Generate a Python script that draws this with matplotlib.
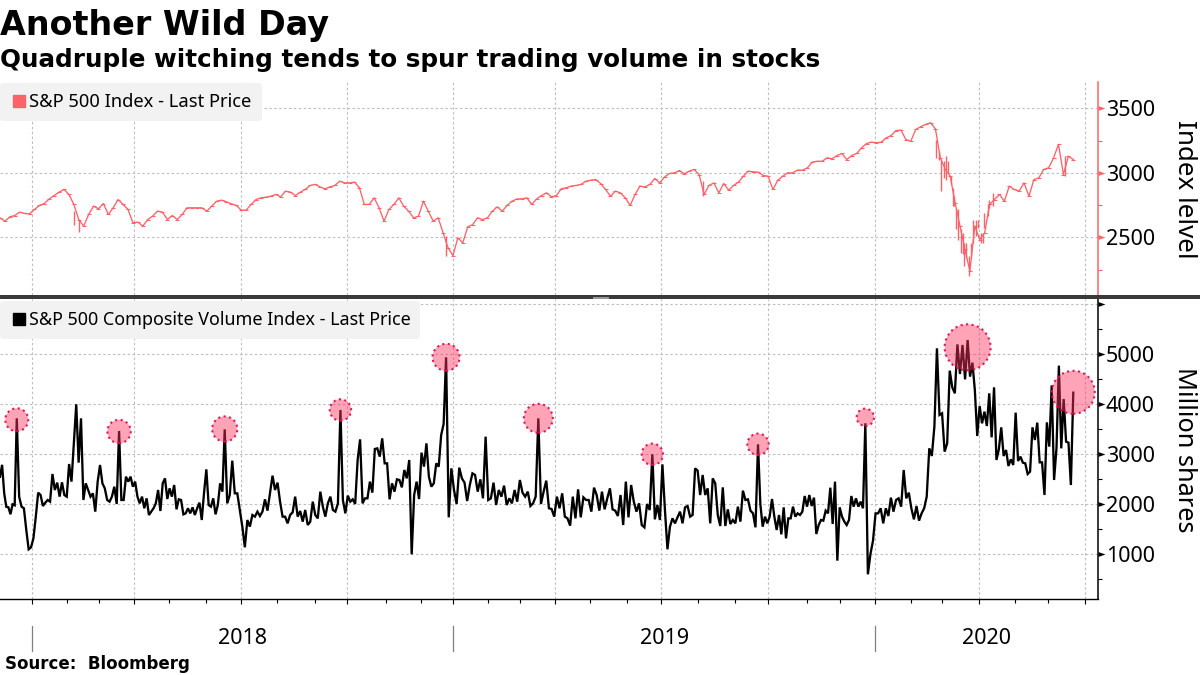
import numpy as np
import pandas as pd
import matplotlib
matplotlib.use("Agg")
import matplotlib.pyplot as plt
from matplotlib.lines import Line2D
from matplotlib.patches import Rectangle
from matplotlib.ticker import FixedLocator, NullFormatter
from matplotlib.transforms import blended_transform_factory

plt.rcParams['font.family'] = ['Noto Sans', 'DejaVu Sans']

title = "Another Wild Day"
subtitle = "Quadruple witching tends to spur trading volume in stocks"
source = "Source:  Bloomberg"

# exchange closures, so the x axis runs in trading sessions
holidays = ['2017-12-25', '2018-01-01', '2018-01-15', '2018-02-19', '2018-03-30', '2018-05-28',
            '2018-07-04', '2018-09-03', '2018-11-22', '2018-12-05', '2018-12-25', '2019-01-01',
            '2019-01-21', '2019-02-18', '2019-04-19', '2019-05-27', '2019-07-04', '2019-09-02',
            '2019-11-28', '2019-12-25', '2020-01-01', '2020-01-20', '2020-02-17', '2020-04-10',
            '2020-05-25', '2020-07-03']

price = [2651, 2625, 2659, 2669, 2695, 2685, 2682, 2716, 2747, 2762, 2798, 2824, 2850, 2871, 2832, 2755,
         2638, 2587, 2677, 2742, 2721, 2762, 2677, 2729, 2793, 2755, 2716, 2612, 2618, 2587, 2638, 2664,
         2703, 2695, 2638, 2669, 2638, 2677, 2729, 2729, 2729, 2729, 2703, 2742, 2780, 2788, 2775, 2760,
         2747, 2711, 2711, 2755, 2793, 2806, 2811, 2819, 2832, 2814, 2858, 2850, 2824, 2850, 2871, 2902,
         2910, 2891, 2876, 2891, 2902, 2935, 2922, 2922, 2928, 2884, 2755, 2755, 2806, 2729, 2625, 2716,
         2755, 2806,
         2742, 2703, 2651, 2664, 2780, 2703, 2625, 2651, 2535, 2419, 2359, 2496, 2457, 2581, 2599, 2651,
         2638, 2651, 2703, 2736, 2703, 2747, 2780, 2798, 2798, 2806, 2755, 2798, 2824, 2845, 2814, 2824,
         2876, 2884, 2897, 2902, 2910, 2935, 2943, 2948, 2917, 2871, 2819, 2858, 2845, 2806, 2747, 2832,
         2897, 2891, 2910, 2956, 2922, 2969, 2995, 3000, 3018, 2992, 3013, 3026, 2987, 2832, 2902, 2922,
         2845, 2917, 2866, 2902, 2928, 2974, 3013, 3008, 3005, 2979, 2974, 2871, 2943, 2974, 3000, 3000,
         3021,
         3021, 3039, 3083, 3090, 3090, 3116, 3109, 3134, 3150, 3103, 3134, 3150, 3194, 3227, 3238, 3233,
         3238, 3271, 3289, 3328, 3331, 3258, 3245, 3336, 3357, 3375, 3388, 3341, 3116, 3026, 2974, 2767,
         2587, 2406, 2238, 2587, 2483, 2535, 2755, 2793, 2832, 2780, 2897, 2871, 2858, 2922, 2819, 2948,
         2961, 3026, 3039, 3116, 3220, 2987, 3129, 3103]

# high-low bars of the widest sessions
range_sessions = [44, 47, 266, 419, 558, 560, 561, 563, 564, 565, 567, 568, 569, 570, 571, 573, 574, 575, 576,
                  578, 579, 580, 582, 583, 585, 586, 587, 589, 590, 592, 635]
range_high = [2703, 2638, 2509, 2935, 3258, 3168, 3103, 3090, 3129, 3090, 2974, 2884, 2819, 2716, 2716, 2561,
              2535, 2457, 2457, 2354, 2457, 2638, 2638, 2638, 2535, 2535, 2690, 2755, 2793, 2845, 3129]
range_low = [2599, 2540, 2354, 2824, 3116, 3103, 2858, 2961, 2948, 3000, 2910, 2742, 2742, 2561, 2483, 2380,
             2367, 2276, 2341, 2199, 2354, 2457, 2509, 2574, 2457, 2457, 2574, 2664, 2729, 2742, 2974]

# sessions the volume spikes sit on, one block of volume readings ends on each
spike_dates = ['2017-12-18', '2018-03-19', '2018-06-18', '2018-09-25', '2018-12-26', '2019-03-18',
               '2019-06-24', '2019-09-23', '2019-12-23', '2020-03-23', '2020-06-22']

vol_a = [2550, 2790, 2220, 1950, 1940, 1800, 2000, 1980, 3720]
vol_b = [2153, 1953, 1920, 1486, 1100, 1140, 1320, 1753, 2233, 2186, 1966, 2033, 2086, 2053, 2606, 2286,
         2433, 2153, 2440, 2186, 2153, 2806, 2453, 3219, 4000, 2833, 3719, 2086, 2419, 2286, 2153, 2219,
         1853, 2453, 2786, 2419, 2319, 2086, 2053, 2153, 2353, 2006, 3466]
vol_c = [2086, 2086, 2553, 2453, 2553, 2353, 2453, 2153, 2019, 2153, 1920, 2119, 1786, 1853, 1920, 2019,
         2286, 1866, 2419, 2519, 2106, 2319, 2153, 2386, 1899, 2099, 2086, 1799, 1819, 1920, 1819, 1939,
         1786, 1920, 2033, 1686, 2233, 2699, 1986, 1953, 2119, 1799, 1986, 2419, 2253, 3499]
vol_d = [2019, 2186, 2873, 2219, 2219, 1886, 1553, 1140, 1686, 1553, 1786, 1753, 1853, 1766, 1853, 2099,
         1873, 2219, 2573, 2286, 2433, 2053, 1753, 1753, 1619, 1786, 1839, 2153, 1753, 1866, 1653, 1886,
         1586, 1653, 2053, 1786, 1719, 2253, 1953, 1753, 2019, 2153, 1886, 1853, 2019, 3886]
vol_e = [2086, 1819, 2173, 2053, 2099, 2006, 2886, 3299, 2019, 2119, 2119, 2453, 2233, 3106, 3119, 2953,
         3319, 2819, 2819, 2099, 2419, 2253, 2499, 2486, 2339, 2686, 2519, 2886, 1000, 2186, 2453, 2106,
         3033, 2753, 3219, 2553, 2353, 2419, 2819, 2753, 3386, 3606, 4940]
vol_f = [1739, 2719, 2286, 2006, 2733, 2519, 2433, 2066, 2386, 2619, 2586, 2253, 2499, 2119, 3353, 2086,
         2119, 2433, 1986, 2286, 2153, 2373, 1986, 2119, 2019, 2286, 2053, 2486, 2233, 2153, 2253, 1966,
         2019, 2153, 3719]
vol_g = [2006, 2253, 2473, 1920, 1906, 1753, 2153, 1920, 2219, 1753, 1719, 1573, 2153, 1719, 2299, 1739,
         2139, 2086, 2086, 1853, 2333, 2186, 1873, 2253, 1899, 2119, 2319, 1899, 1873, 1766, 2186, 1586,
         2453, 1739, 2386, 2053, 1853, 2019, 1586, 1539, 2006, 1886, 3000]
vol_h = [1699, 1986, 1686, 2799, 1886, 1100, 1553, 1719, 1619, 1739, 1853, 1619, 1939, 1966, 1753, 1786,
         2719, 2673, 2186, 2586, 2186, 2319, 1619, 2519, 2419, 1786, 1566, 2339, 1566, 1899, 1606, 1686,
         1619, 1953, 1653, 2273, 2086, 2099, 1873, 1819, 1539, 3200]
vol_i = [2006, 1553, 1753, 1619, 1753, 2106, 1753, 1486, 1786, 1399, 1939, 1319, 1719, 1719, 1953, 1753,
         1819, 1786, 1853, 2166, 1953, 2186, 1966, 2133, 1406, 1586, 1686, 1673, 1873, 1819, 2333, 1606,
         2453, 873, 1939, 1753, 1653, 1586, 1686, 2166, 1953, 2119, 1953, 2053, 1920, 3620]
vol_j = [600, 1006, 1273, 1819, 1819, 1920, 1619, 1920, 1766, 2133, 1853, 2086, 2119, 1953, 2686, 2119,
         2233, 1920, 1699, 1966, 1673, 1819, 1920, 2153, 3119, 2966, 3553, 5119, 3786, 3819, 3053, 3219,
         4673, 4339, 4219, 5199, 4606, 5186, 4499, 5286]
vol_k = [4553, 4833, 4286, 3366, 3966, 3619, 3853, 3566, 4219, 3339, 4339, 2886, 3099, 3539, 2966, 3086,
         2766, 2899, 2786, 3833, 2866, 2953, 2833, 2819, 2606, 2653, 3539, 3286, 3633, 2839, 2839, 2186,
         3639, 3153, 4379, 2486, 3119, 4773, 3119, 4106, 3253, 3233, 2386, 4233]

bubble_value = [3690, 3456, 3506, 3886, 4940, 3720, 3000, 3200, 3740, 5140, 4240]
bubble_size = [23, 23.4, 25.2, 21.4, 27, 29, 21.4, 21.4, 17.4, 46, 43]

price_yticks = [2500, 3000, 3500]
volume_yticks = [1000, 2000, 3000, 4000, 5000]
years = ['2018', '2019', '2020']

RED = '#f9646b'
GRID = '#bdbdbd'

sessions = pd.bdate_range('2017-12-04', '2020-07-10').difference(pd.to_datetime(holidays))


def session_no(dates):
    return sessions.searchsorted(pd.to_datetime(dates))


month_ticks = session_no(pd.date_range('2018-01-01', '2020-07-01', freq='MS'))
quarter_ticks = month_ticks[::3]
year_ticks = month_ticks[::12]
xmax = 654.5

fig = plt.figure(figsize=(12, 6.75), dpi=100)
ax1 = fig.add_axes([0, 1 - 295 / 675, 1097.6 / 1200, 213 / 675])
ax2 = fig.add_axes([0, 1 - 599.3 / 675, 1097.6 / 1200, 300.3 / 675])

# index panel, bar chart look: thin line with small closing ticks
price_x = np.linspace(0, session_no(spike_dates)[-1], len(price))
ax1.plot(price_x, price, color=RED, lw=0.95, marker='_', ms=3.2, mew=0.8)
ax1.vlines(range_sessions, range_low, range_high, color=RED, lw=1.0)
ax1.set_ylim(2053, 3704)
ax1.yaxis.set_major_locator(FixedLocator(price_yticks))
ax1.yaxis.set_minor_locator(FixedLocator([2250, 2750, 3250]))

# volume panel
blocks = [vol_a, vol_b, vol_c, vol_d, vol_e, vol_f, vol_g, vol_h, vol_i, vol_j, vol_k]
spikes = session_no(spike_dates)
volume_x = [np.linspace(0, spikes[0], len(vol_a))]
for i in range(1, len(blocks)):
    volume_x.append(np.linspace(spikes[i - 1], spikes[i], len(blocks[i]) + 1)[1:])
ax2.plot(np.concatenate(volume_x), np.concatenate(blocks), color='black', lw=1.65, solid_joinstyle='miter')
ax2.scatter(spikes, bubble_value, s=(np.array(bubble_size) * 0.72) ** 2, facecolor=(1, 0.2, 0.38, 0.45),
            edgecolor=(0.88, 0.05, 0.3, 0.95), linewidth=1.5, linestyle=':', zorder=5, clip_on=False)
ax2.set_ylim(100, 6106)
ax2.yaxis.set_major_locator(FixedLocator(volume_yticks + [6000]))
ax2.yaxis.set_minor_locator(FixedLocator([500, 1500, 2500, 3500, 4500, 5500]))
ax2.set_yticklabels([str(v) for v in volume_yticks] + [''])

for ax, color, yticks in [(ax1, RED, price_yticks), (ax2, 'black', volume_yticks + [6000])]:
    ax.set_xlim(0, xmax)
    ax.xaxis.set_major_locator(FixedLocator(quarter_ticks))
    ax.xaxis.set_minor_locator(FixedLocator(month_ticks))
    ax.xaxis.set_major_formatter(NullFormatter())
    ax.yaxis.tick_right()
    ax.tick_params(axis='y', which='major', length=0, pad=6, labelsize=15.5, labelcolor='black')
    ax.tick_params(axis='y', which='minor', length=3, width=0.8, color=color)
    ax.grid(True, which='major', color=GRID, lw=0.8, linestyle=(0, (2.2, 2.2)))
    ax.set_axisbelow(True)
    for name in ['top', 'left', 'bottom']:
        ax.spines[name].set_visible(False)
    ax.spines['right'].set_color(color)
    ax.spines['right'].set_linewidth(1.1)
    # the major y ticks are small solid wedges
    trans = blended_transform_factory(ax.transAxes, ax.transData)
    ax.plot([1] * len(yticks), yticks, linestyle='none', marker=[(0, -0.35), (1, 0), (0, 0.35)], ms=10,
            color=color, mew=0, transform=trans, clip_on=False)

ax1.tick_params(axis='x', which='both', length=0)
ax2.spines['bottom'].set_visible(True)
ax2.spines['bottom'].set_linewidth(1.0)
ax2.tick_params(axis='x', which='major', length=3.6, width=0.8)
ax2.tick_params(axis='x', which='minor', length=2.8, width=0.8)

fig.text(1184 / 1200, 1 - 189 / 675, 'Index lelvel', rotation=270, fontsize=18.7, ha='center', va='center')
fig.text(1184 / 1200, 1 - 450 / 675, 'Million shares', rotation=270, fontsize=18.2, ha='center', va='center')

# legends
for ax, color, label, y, size in [(ax1, RED, 'S&P 500 Index - Last Price', 0.995, 13.2),
                                  (ax2, 'black', 'S&P 500 Composite Volume Index - Last Price', 0.992, 12.9)]:
    handle = Line2D([], [], linestyle='none', marker='s', ms=8.5, color=color)
    leg = ax.legend([handle], [label], loc='upper left', bbox_to_anchor=(0, y), borderaxespad=0,
                    fontsize=size, frameon=True, facecolor='#f2f2f2', edgecolor='none', framealpha=1,
                    handletextpad=0.05, borderpad=0.55, handlelength=1.0)
    leg.set_zorder(6)

# year band below the axis
trans = blended_transform_factory(ax2.transData, fig.transFigure)
for x in year_ticks:
    ax2.plot([x, x], [1 - 626 / 675, 1 - 651 / 675], color='#808080', lw=0.9, transform=trans, clip_on=False)
year_edges = list(year_ticks) + [xmax]
for i, year in enumerate(years):
    ax2.text((year_edges[i] + year_edges[i + 1]) / 2, 1 - 638 / 675, year, transform=trans,
             ha='center', va='center', fontsize=15.5)

# divider between the panels
fig.add_artist(Rectangle((0, 1 - 299.3 / 675), 1, 4.3 / 675, transform=fig.transFigure, color='#3a3a3a', lw=0))
for y in [296.6, 298]:
    fig.add_artist(Line2D([593 / 1200, 608 / 1200], [1 - y / 675] * 2, color='#9a9a9a', lw=0.7))

fig.text(0, 1 - 25 / 675, title, family='DejaVu Sans', fontweight='bold', fontsize=24, va='center')
fig.text(0, 1 - 60 / 675, subtitle, family='DejaVu Sans', fontweight='bold', fontsize=17.7, va='center')
fig.text(5 / 1200, 1 - 664 / 675, source, family='DejaVu Sans', fontweight='bold', fontsize=12, va='center')

fig.savefig('out.png', dpi=100)
